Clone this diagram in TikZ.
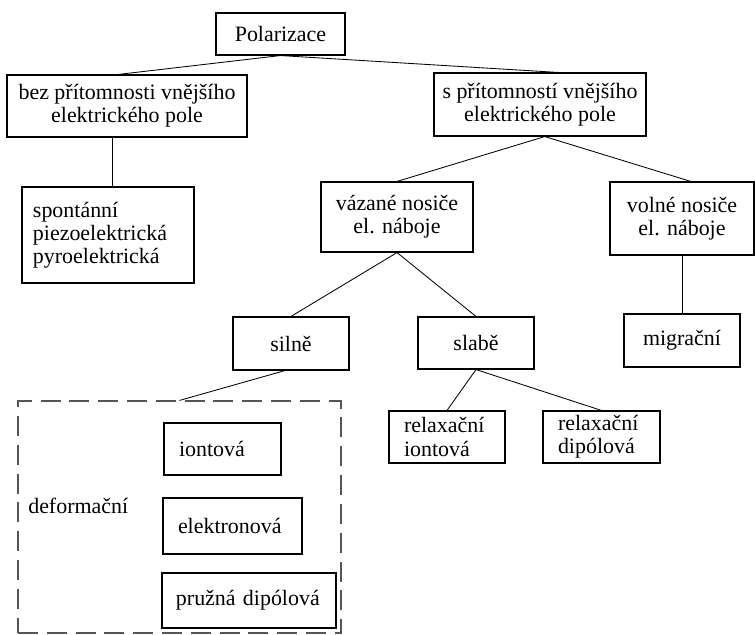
\documentclass[tikz,border=0pt]{standalone}
\usepackage{fontspec}
\setmainfont{Liberation Serif}
\usepackage{tikz}
\newcommand{\polfont}{\fontsize{15.6pt}{16.4pt}\selectfont}
\definecolor{dashgray}{RGB}{85,85,85}
\tikzset{
  pbase/.style={draw, line width=0.8pt, inner sep=0pt, font=\polfont},
  cbox/.style 2 args={pbase, align=center, minimum width=#1*0.025cm, minimum height=#2*0.025cm},
  lbox/.style 2 args={pbase, align=left, minimum height=#2*0.025cm, inner xsep=0.375cm, text width=#1*0.025cm-0.75cm},
  pline/.style={line width=0.6pt},
  dashbox/.style={draw=dashgray, line width=0.8pt, dash pattern=on 0.5cm off 0.22cm, inner sep=0pt},
}

\begin{document}
\begin{tikzpicture}[x=0.025cm, y=-0.025cm]
  \useasboundingbox (0,0) rectangle (755,635);

  \node[cbox={129}{42}] (pol) at (280.5,34) {Polarizace};
  \node[cbox={240}{62}] (bez) at (127,106) {bez přítomnosti vnějšího\\elektrického pole};
  \node[cbox={212}{63}] (spr) at (540,104.5) {s přítomností vnějšího\\elektrického pole};
  \node[lbox={172}{96}, inner xsep=0.275cm, text width=3.75cm] (spont) at (108,235) {spontánní\\piezoelektrická\\pyroelektrická};
  \node[cbox={152}{70}] (vaz) at (397,217) {vázané nosiče\\el. náboje};
  \node[cbox={144}{73}] (voln) at (682,218.5) {volné nosiče\\el. náboje};
  \node[cbox={116}{53}] (migr) at (682,340.5) {migrační};
  \node[cbox={116}{53}] (silne) at (291,343.5) {silně};
  \node[cbox={116}{52}] (slabe) at (476,343) {slabě};
  \node[lbox={116}{52}] (reli) at (447,437) {relaxační\\iontová};
  \node[lbox={117}{52}] (reld) at (601.5,437) {relaxační\\dipólová};

  \node[dashbox, minimum width=323*0.025cm, minimum height=232*0.025cm] (defbox) at (179.5,517) {};
  \node[font=\polfont, anchor=west, inner sep=0pt] (deform) at (28,506) {deformační};
  \node[lbox={117}{52}] (iont) at (222.5,449) {iontová};
  \node[lbox={139}{56}] (elek) at (232.5,526) {elektronová};
  \node[lbox={174}{55}, inner xsep=0.35cm, text width=3.65cm] (pruz) at (249,600.5) {pružná dipólová};

  \draw[pline] (pol.south) -- ([xshift=-0.22cm]bez.north);
  \draw[pline] (pol.south) -- ([xshift=0.45cm]spr.north);
  \draw[pline] ([xshift=0.1cm]spont.north) -- ([xshift=0.1cm]spont.north |- bez.south);
  \draw[pline] ([xshift=0.12cm]spr.south) -- (vaz.north);
  \draw[pline] ([xshift=0.12cm]spr.south) -- ([xshift=0.22cm]voln.north);
  \draw[pline] (voln.south) -- (migr.north);
  \draw[pline] (vaz.south) -- (silne.north);
  \draw[pline] (vaz.south) -- (slabe.north);
  \draw[pline] (slabe.south) -- (reli.north);
  \draw[pline] (slabe.south) -- (reld.north);
  \draw[pline] ([xshift=-0.15cm]silne.south) -- (defbox.north);
\end{tikzpicture}
\end{document}
